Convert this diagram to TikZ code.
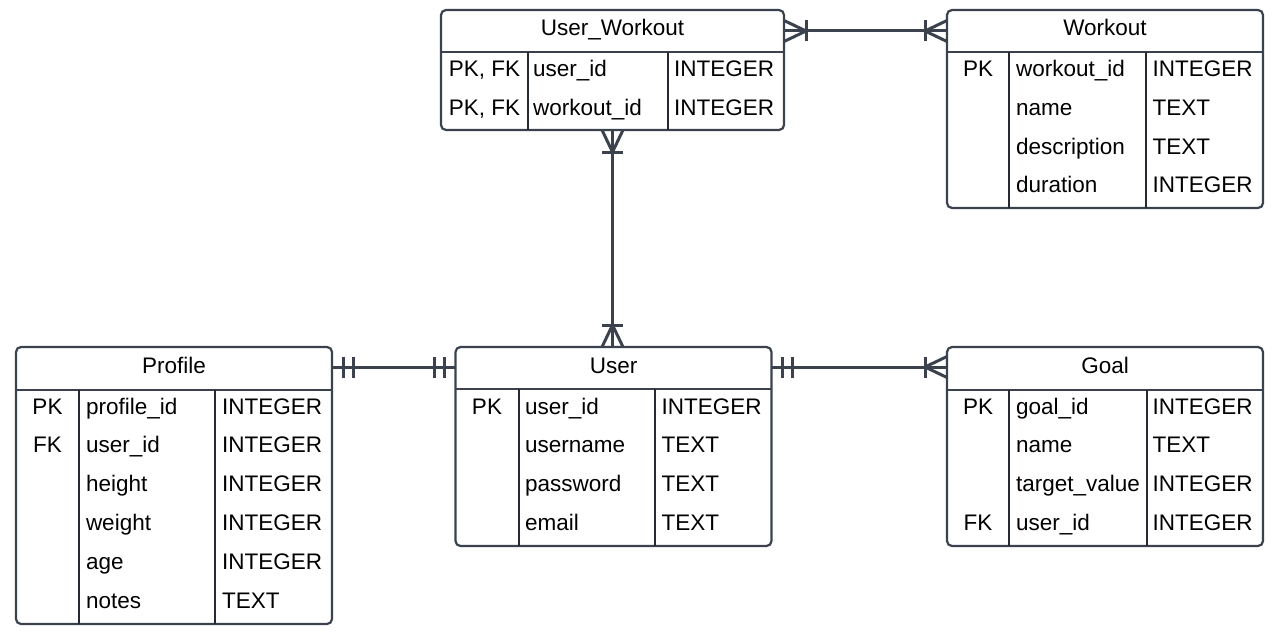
\documentclass[tikz,border=0pt]{standalone}
\usepackage{fontspec}
\setmainfont{Liberation Sans}
\usetikzlibrary{fit}
\definecolor{lc}{RGB}{59,66,77}
\definecolor{dv}{RGB}{38,42,50}
\newcommand\ersize{\fontsize{22.5}{26}\selectfont}
\begin{document}
\begin{tikzpicture}[x=1pt,y=-1pt,
 tbl/.style={draw=lc, line width=2.2pt, rounded corners=5pt, fill=white, inner sep=0pt, outer sep=0pt},
 hsep/.style={draw=lc, line width=2.2pt},
 colsep/.style={draw=dv, line width=1.6pt},
 txt/.style={font=\ersize, text=black, inner sep=0pt, outer sep=0pt},
 ttl/.style={txt, anchor=base},
 keyc/.style={txt, anchor=base},
 fld/.style={txt, anchor=base west},
 conn/.style={draw=lc, line width=3pt},
 crowfoot/.pic={\draw[conn, line join=miter] (0,-10.5) -- (22,0) -- (0,10.5); \draw[conn] (22,-10.5) -- (22,10.5);},
 twobar/.pic={\draw[conn] (11,-10.5) -- (11,10.5) (21,-10.5) -- (21,10.5);}
]
\fill[white] (0,0) rectangle (1284,642);
\useasboundingbox (0,0) rectangle (1284,642);

% ---------- tables ----------
\coordinate (uw-a) at (441,10);  \coordinate (uw-b) at (784,130);
\coordinate (wo-a) at (947,10);  \coordinate (wo-b) at (1263,208);
\coordinate (pr-a) at (16,347);  \coordinate (pr-b) at (332,624);
\coordinate (us-a) at (455.5,347); \coordinate (us-b) at (771.5,546);
\coordinate (go-a) at (947,347); \coordinate (go-b) at (1263,546);

\node[tbl, fit=(uw-a)(uw-b)] (uw) {};
\node[tbl, fit=(wo-a)(wo-b)] (workout) {};
\node[tbl, fit=(pr-a)(pr-b)] (profile) {};
\node[tbl, fit=(us-a)(us-b)] (user) {};
\node[tbl, fit=(go-a)(go-b)] (goal) {};

% header and column separators
\draw[hsep] (441,52) -- (784,52);
\draw[colsep] (528,52) -- (528,130) (668,52) -- (668,130);
\draw[hsep] (947,52) -- (1263,52);
\draw[colsep] (1009,52) -- (1009,208) (1146,52) -- (1146,208);
\draw[hsep] (16,390) -- (332,390);
\draw[colsep] (79,390) -- (79,624) (215,390) -- (215,624);
\draw[hsep] (455.5,389) -- (771.5,389);
\draw[colsep] (519,389) -- (519,546) (655,389) -- (655,546);
\draw[hsep] (947,390) -- (1263,390);
\draw[colsep] (1009,390) -- (1009,546) (1147,390) -- (1147,546);

% ---------- User_Workout ----------
\node[ttl] (uw-t) at (612.5,36) {User\_Workout};
\node[keyc] (uw-k1) at (484.5,76.7) {PK, FK};
\node[fld] (uw-n1) at (533,76.7) {user\_id};
\node[fld] (uw-y1) at (674,76.7) {INTEGER};
\node[keyc] (uw-k2) at (484.5,115.3) {PK, FK};
\node[fld] (uw-n2) at (533,115.3) {workout\_id};
\node[fld] (uw-y2) at (674,115.3) {INTEGER};

% ---------- Workout ----------
\node[ttl] (wo-t) at (1105,36) {Workout};
\node[keyc] (wo-k1) at (978,76.7) {PK};
\node[fld] (wo-n1) at (1016,76.7) {workout\_id};
\node[fld] (wo-y1) at (1152.5,76.7) {INTEGER};
\node[fld] (wo-n2) at (1016,115.3) {name};
\node[fld] (wo-y2) at (1152.5,115.3) {TEXT};
\node[fld] (wo-n3) at (1016,154) {description};
\node[fld] (wo-y3) at (1152.5,154) {TEXT};
\node[fld] (wo-n4) at (1016,192.6) {duration};
\node[fld] (wo-y4) at (1152.5,192.6) {INTEGER};

% ---------- Profile ----------
\node[ttl] (pr-t) at (174,373) {Profile};
\node[keyc] (pr-k1) at (47.5,414) {PK};
\node[fld] (pr-n1) at (86,414) {profile\_id};
\node[fld] (pr-y1) at (222,414) {INTEGER};
\node[keyc] (pr-k2) at (47.5,452.8) {FK};
\node[fld] (pr-n2) at (86,452.8) {user\_id};
\node[fld] (pr-y2) at (222,452.8) {INTEGER};
\node[fld] (pr-n3) at (86,491.6) {height};
\node[fld] (pr-y3) at (222,491.6) {INTEGER};
\node[fld] (pr-n4) at (86,530.4) {weight};
\node[fld] (pr-y4) at (222,530.4) {INTEGER};
\node[fld] (pr-n5) at (86,569.2) {age};
\node[fld] (pr-y5) at (222,569.2) {INTEGER};
\node[fld] (pr-n6) at (86,608) {notes};
\node[fld] (pr-y6) at (222,608) {TEXT};

% ---------- User ----------
\node[ttl] (us-t) at (613.5,373) {User};
\node[keyc] (us-k1) at (487,414) {PK};
\node[fld] (us-n1) at (525,414) {user\_id};
\node[fld] (us-y1) at (661.5,414) {INTEGER};
\node[fld] (us-n2) at (525,452.7) {username};
\node[fld] (us-y2) at (661.5,452.7) {TEXT};
\node[fld] (us-n3) at (525,491.3) {password};
\node[fld] (us-y3) at (661.5,491.3) {TEXT};
\node[fld] (us-n4) at (525,530) {email};
\node[fld] (us-y4) at (661.5,530) {TEXT};

% ---------- Goal ----------
\node[ttl] (go-t) at (1105,373) {Goal};
\node[keyc] (go-k1) at (978,414) {PK};
\node[fld] (go-n1) at (1016,414) {goal\_id};
\node[fld] (go-y1) at (1152.5,414) {INTEGER};
\node[fld] (go-n2) at (1016,452.7) {name};
\node[fld] (go-y2) at (1152.5,452.7) {TEXT};
\node[fld] (go-n3) at (1016,491.3) {target\_value};
\node[fld] (go-y3) at (1152.5,491.3) {INTEGER};
\node[keyc] (go-k4) at (978,530) {FK};
\node[fld] (go-n4) at (1016,530) {user\_id};
\node[fld] (go-y4) at (1152.5,530) {INTEGER};

% ---------- connectors ----------
\coordinate (c1a) at ([yshift=-21pt]uw.north east);
\coordinate (c1b) at (c1a -| workout.west);
\draw[conn] (c1a) -- (c1b);
\pic at (c1a) {crowfoot};
\pic[rotate=180] at (c1b) {crowfoot};

\coordinate (c2a) at (uw.south);
\coordinate (c2b) at (uw.south |- user.north);
\draw[conn] (c2a) -- (c2b);
\pic[rotate=-90] at (c2a) {crowfoot};
\pic[rotate=90] at (c2b) {crowfoot};

\coordinate (c3a) at ([yshift=-20pt]profile.north east);
\coordinate (c3b) at (c3a -| user.west);
\draw[conn] (c3a) -- (c3b);
\pic at (c3a) {twobar};
\pic[rotate=180] at (c3b) {twobar};

\coordinate (c4a) at ([yshift=-20pt]user.north east);
\coordinate (c4b) at (c4a -| goal.west);
\draw[conn] (c4a) -- (c4b);
\pic at (c4a) {twobar};
\pic[rotate=180] at (c4b) {crowfoot};
\end{tikzpicture}
\end{document}
